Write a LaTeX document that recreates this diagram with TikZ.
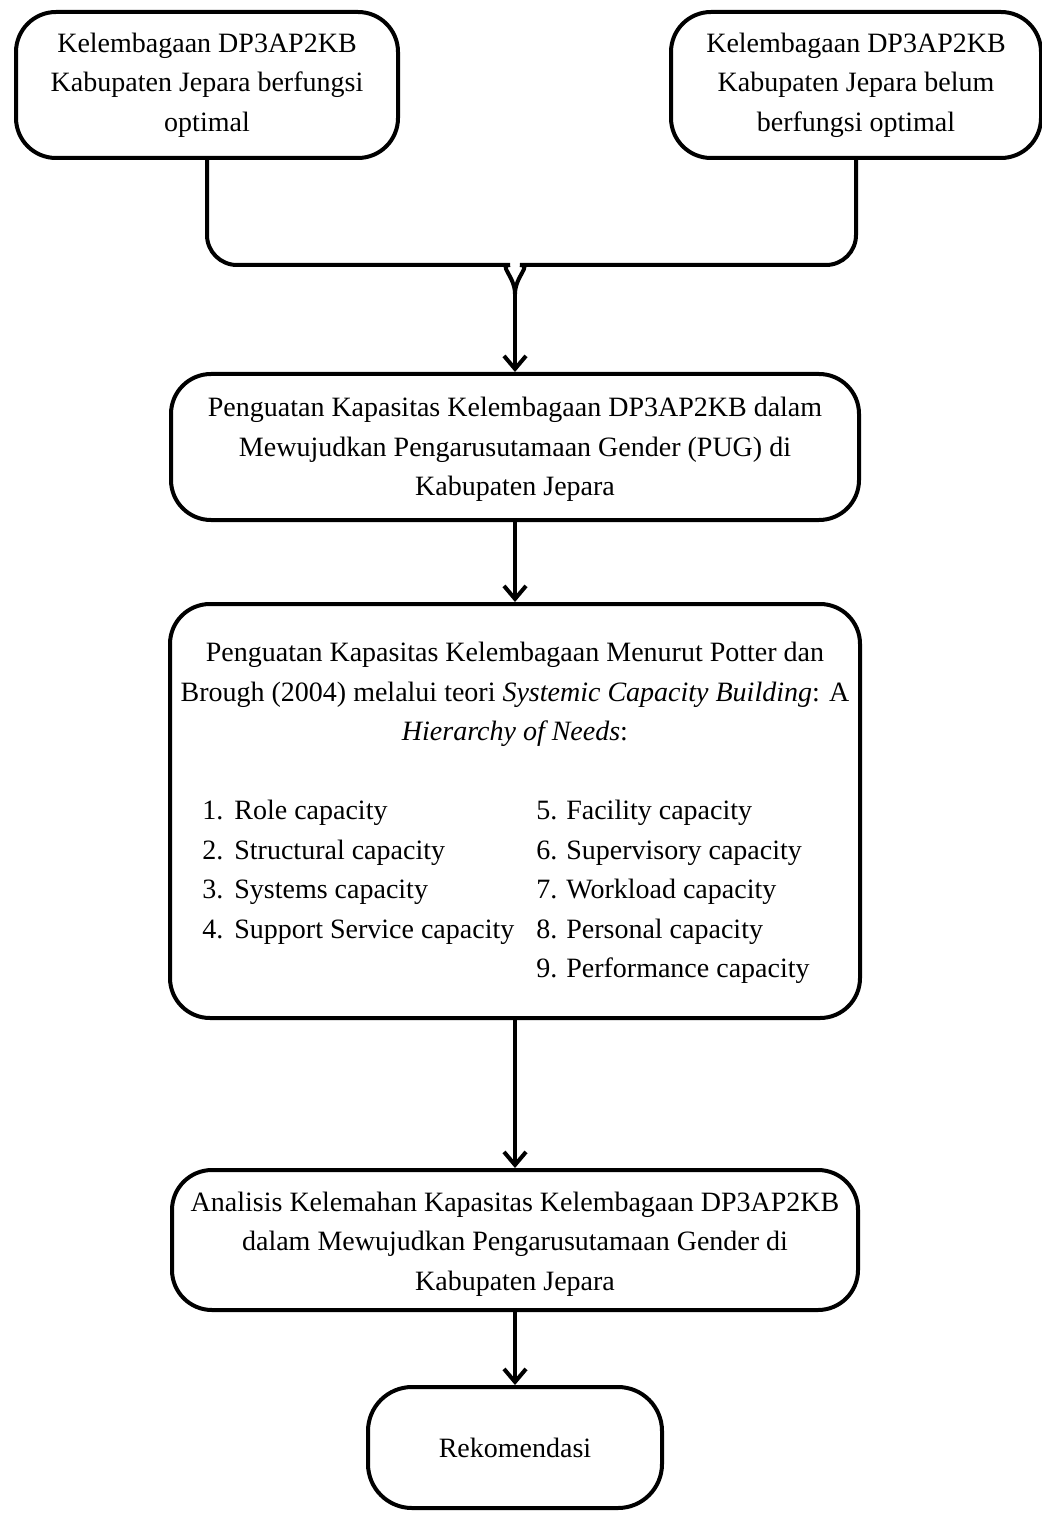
\documentclass[tikz,border=0pt]{standalone}
\usepackage{fontspec}
\setmainfont{Liberation Serif}
\usetikzlibrary{arrows.meta}
\newcommand{\numitem}[2]{\makebox[#1][l]{#2}}
\begin{document}
\begin{tikzpicture}[x=0.5pt,y=-0.5pt,
  box/.style={draw, line width=2pt, rounded corners=20pt, inner sep=0pt, align=center,
    font=\fontsize{14}{19.75}\selectfont},
  line/.style={line width=2pt},
  conn/.style={line width=2pt, -{Straight Barb[length=6.5pt,width=11pt,line width=2pt]}}]
\useasboundingbox (0,0) rectangle (1041,1513);

\node[box, minimum width=191pt, minimum height=73pt] (a) at (207,85)
  {Kelembagaan DP3AP2KB\\Kabupaten Jepara berfungsi\\optimal};
\node[box, minimum width=185pt, minimum height=73pt] (b) at (856,85)
  {Kelembagaan DP3AP2KB\\Kabupaten Jepara belum\\berfungsi optimal};
\node[box, minimum width=344pt, minimum height=73pt] (c) at (515,447)
  {\rule{0pt}{12pt}Penguatan Kapasitas Kelembagaan DP3AP2KB dalam\\Mewujudkan Pengarusutamaan Gender (PUG) di\\Kabupaten Jepara};
\node[box, minimum width=345pt, minimum height=207pt] (d) at (515,811)
  {\rule{0pt}{14.7pt}Penguatan Kapasitas Kelembagaan Menurut Potter dan\\
   Brough (2004) melalui teori \textit{Systemic Capacity Building}: A\\
   \textit{Hierarchy of Needs}:\\[19.75pt]
   \hspace*{-9pt}\begin{tabular}[t]{@{}l@{\hspace{11pt}}l@{}}
   \numitem{16pt}{1.}Role capacity & \numitem{15pt}{5.}Facility capacity\\
   \numitem{16pt}{2.}Structural capacity & \numitem{15pt}{6.}Supervisory capacity\\
   \numitem{16pt}{3.}Systems capacity & \numitem{15pt}{7.}Workload capacity\\
   \numitem{16pt}{4.}Support Service capacity & \numitem{15pt}{8.}Personal capacity\\
    & \numitem{15pt}{9.}Performance capacity
   \end{tabular}};
\node[box, minimum width=343pt, minimum height=70pt] (e) at (515,1240)
  {\rule{0pt}{13.5pt}Analisis Kelemahan Kapasitas Kelembagaan DP3AP2KB\\dalam Mewujudkan Pengarusutamaan Gender di\\Kabupaten Jepara};
\node[box, minimum width=147pt, minimum height=60.5pt, rounded corners=22pt] (f) at (515,1447.5)
  {Rekomendasi};

\coordinate (hl) at (480,265);
\coordinate (hr) at (550,265);
\coordinate (j) at (515,294);

\draw[line] (a.south) [rounded corners=15pt] |- (hl) [sharp corners] to[out=0,in=90] (j);
\draw[line] (b.south) [rounded corners=15pt] |- (hr) [sharp corners] to[out=180,in=90] (j);
\draw[conn] (j) -- (c.north);
\draw[conn] (c.south) -- (d.north);
\draw[conn] (d.south) -- (e.north);
\draw[conn] (e.south) -- (f.north);
\end{tikzpicture}
\end{document}
